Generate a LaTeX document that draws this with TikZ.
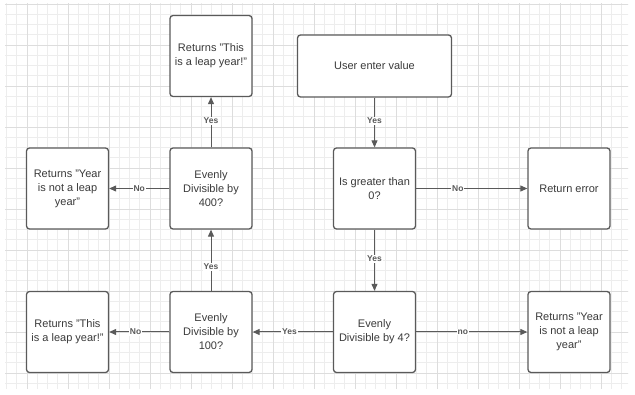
\documentclass[tikz,border=0pt]{standalone}
\usepackage{fontspec}
\setmainfont{Liberation Sans}
\usetikzlibrary{arrows.meta}
\definecolor{gridminor}{HTML}{EDEDED}
\definecolor{gridmajor}{HTML}{DDDDDD}
\definecolor{boxline}{HTML}{5A5A5A}
\definecolor{txt}{HTML}{3A3A3A}
\tikzset{
  box/.style={draw=boxline, line width=1.3pt, rounded corners=3pt, fill=white,
    minimum width=82pt, minimum height=81pt, inner sep=0pt,
    align=center, text=txt, font=\fontsize{11}{14}\selectfont},
  arr/.style={draw=boxline, line width=1pt, -{Triangle[length=7pt,width=6pt]}},
  lbl/.style={fill=white, inner sep=0.8pt, text=boxline,
    font=\bfseries\fontsize{8.5}{9}\selectfont}
}
\begin{document}
\begin{tikzpicture}[x=1pt,y=-1pt]
\useasboundingbox (0,0) rectangle (635,395);
% background grid
\begin{scope}
  \clip (5,4) rectangle (628,389);
  \foreach \k in {-2,...,59} {
    \draw[gridminor, line width=0.6pt] ({27+10.25*\k},0) -- ({27+10.25*\k},395);
  }
  \foreach \k in {-4,...,34} {
    \draw[gridminor, line width=0.6pt] (0,{45+10.25*\k}) -- (635,{45+10.25*\k});
  }
  \foreach \k in {0,...,14} {
    \draw[gridmajor, line width=0.7pt] ({27+41*\k},0) -- ({27+41*\k},395);
  }
  \foreach \k in {-1,...,8} {
    \draw[gridmajor, line width=0.7pt] (0,{45+41*\k}) -- (635,{45+41*\k});
  }
\end{scope}
% boxes
\node[box] (topleap) at (211,56) {Returns "This\\is a leap year!"};
\node[box, minimum width=154pt, minimum height=62pt] (user) at (374.5,66) {User enter value};
\node[box] (gt0) at (374.5,188.5) {Is greater than\\0?};
\node[box] (err) at (569,188.5) {Return error};
\node[box] (no400) at (67.5,188.5) {Returns "Year\\is not a leap\\year"};
\node[box] (div400) at (211,188.5) {Evenly\\Divisible by\\400?};
\node[box] (leap100) at (67.5,332) {Returns "This\\is a leap year!"};
\node[box] (div100) at (211,332) {Evenly\\Divisible by\\100?};
\node[box] (div4) at (374.5,332) {Evenly\\Divisible by 4?};
\node[box] (not4) at (569,332) {Returns "Year\\is not a leap\\year"};
% connectors
\draw[arr] (user) -- node[lbl, pos=0.47] {Yes} (gt0);
\draw[arr] (gt0) -- node[lbl, pos=0.375] {No} (err);
\draw[arr] (gt0) -- node[lbl, pos=0.48] {Yes} (div4);
\draw[arr] (div4) -- node[lbl, pos=0.42] {no} (not4);
\draw[arr] (div4) -- node[lbl, pos=0.54] {Yes} (div100);
\draw[arr] (div100) -- node[lbl, pos=0.56] {No} (leap100);
\draw[arr] (div100) -- node[lbl, pos=0.39] {Yes} (div400);
\draw[arr] (div400) -- node[lbl, pos=0.5] {No} (no400);
\draw[arr] (div400) -- node[lbl, pos=0.53] {Yes} (topleap);
\end{tikzpicture}
\end{document}
